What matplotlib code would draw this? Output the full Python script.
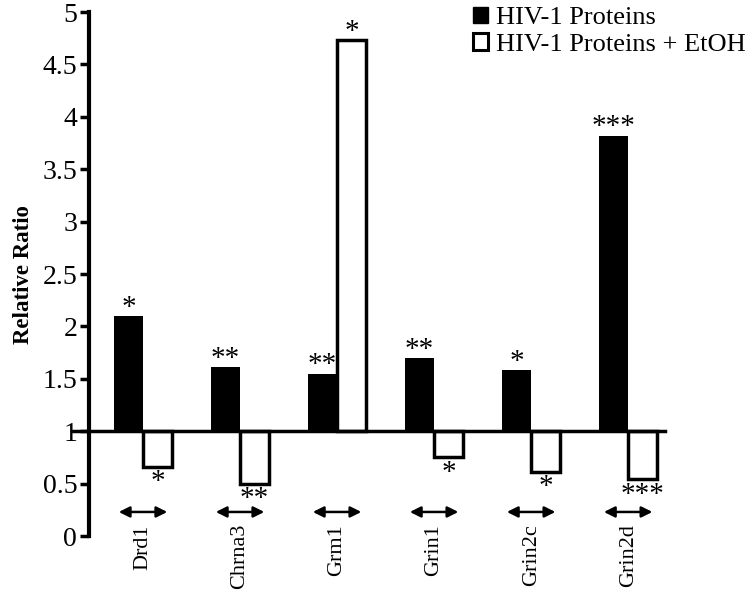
import matplotlib
matplotlib.use("Agg")
import matplotlib.pyplot as plt
from matplotlib.patches import Patch
import numpy as np

plt.rcParams['font.family'] = ['Liberation Serif', 'DejaVu Serif']

genes = ["Drd1", "Chrna3", "Grm1", "Grin1", "Grin2c", "Grin2d"]
hiv = [2.1, 1.61, 1.55, 1.7, 1.58, 3.82]
hiv_etoh = [0.66, 0.5, 4.73, 0.75, 0.61, 0.54]
sig_hiv = ["*", "**", "**", "**", "*", "***"]
sig_etoh = ["*", "**", "*", "*", "*", "***"]
yticks = [0, 0.5, 1, 1.5, 2, 2.5, 3, 3.5, 4, 4.5, 5]
ytick_labels = ["0", "0.5", "1", "1.5", "2", "2.5", "3", "3.5", "4", "4.5", "5"]
baseline = 1.0

fig = plt.figure(figsize=(7.54, 6.03), dpi=100)
ax = fig.add_axes([0.118, 0.111, 0.764, 0.869])

x = np.arange(len(genes))
w = 0.30
ax.bar(x - w/2, np.array(hiv) - baseline, w, bottom=baseline, color="black",
       edgecolor="black", linewidth=0)
ax.bar(x + w/2, np.array(hiv_etoh) - baseline, w, bottom=baseline, color="white",
       edgecolor="black", linewidth=2.5, zorder=2)
ax.axhline(baseline, xmin=-0.03, color="black", linewidth=2.5, clip_on=False, zorder=3)

fs_star = 21
for i in range(len(genes)):
    v = hiv[i]
    ax.annotate(sig_hiv[i], (x[i] - w/2, v), xytext=(0, 1), textcoords="offset points",
                ha="center", va="baseline", fontsize=fs_star)
    v2 = hiv_etoh[i]
    if v2 >= baseline:
        ax.annotate(sig_etoh[i], (x[i] + w/2, v2), xytext=(0, 1), textcoords="offset points",
                    ha="center", va="baseline", fontsize=fs_star)
    else:
        ax.annotate(sig_etoh[i], (x[i] + w/2, v2), xytext=(0, -16), textcoords="offset points",
                    ha="center", va="baseline", fontsize=fs_star)
    ax.annotate("", xy=(x[i] - 0.25, 0.23), xytext=(x[i] + 0.25, 0.23),
                arrowprops=dict(arrowstyle="<|-|>", color="black", lw=1.8,
                                mutation_scale=16, shrinkA=0, shrinkB=0))

ax.set_xlim(-0.557, 5.38)
ax.set_ylim(0, 5)
ax.set_yticks(yticks)
ax.set_yticklabels(ytick_labels, fontsize=20)
ax.set_xticks(x)
ax.set_xticklabels(genes, rotation=90, fontsize=16)
ax.tick_params(axis="x", length=0, pad=-8.6)
ax.tick_params(axis="y", direction="out", length=6.5, width=2.5, pad=2)
for s in ["top", "right", "bottom"]:
    ax.spines[s].set_visible(False)
ax.spines["left"].set_linewidth(3)
ax.set_ylabel("Relative Ratio", fontsize=16.5, fontweight="bold", labelpad=6)

handles = [Patch(facecolor="black", edgecolor="black", linewidth=1),
           Patch(facecolor="white", edgecolor="black", linewidth=2.2)]
fig.legend(handles, ["HIV-1 Proteins", "HIV-1 Proteins + EtOH"], loc="upper left",
           bbox_to_anchor=(466/754, 1.0), frameon=False, fontsize=19,
           handlelength=0.6, handleheight=0.6, handletextpad=0.3, labelspacing=0.15,
           borderaxespad=0, borderpad=0.25)

fig.savefig("out.png", dpi=100)
